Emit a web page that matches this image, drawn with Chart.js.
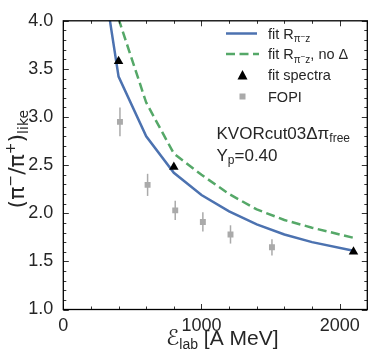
<!DOCTYPE html>
<html>
<head>
<meta charset="utf-8">
<script src="https://cdn.jsdelivr.net/npm/chart.js@4.4.1/dist/chart.umd.min.js"></script>
<style>
html,body{margin:0;padding:0;background:#fff;}
#wrap{width:374px;height:363px;}
</style>
</head>
<body>
<div id="wrap"><canvas id="c" width="374" height="363"></canvas></div>
<script>
// ---- data ----
const energiesModel = [300, 400, 600, 800, 1000, 1200, 1400, 1600, 1800, 2100];
const fitRpiz       = [4.35, 3.42, 2.80, 2.42, 2.19, 2.02, 1.885, 1.78, 1.70, 1.61];
const fitRpizNoDelta= [null, 4.02, 3.15, 2.62, 2.40, 2.20, 2.04, 1.93, 1.85, 1.745];
const energiesSpectra = [400, 800, 2100];
const fitSpectra      = [3.58, 2.48, 1.60];
const energiesFOPI = [410, 610, 810, 1010, 1210, 1510];
const fopiValues   = [2.95, 2.295, 2.03, 1.91, 1.78, 1.646];
const fopiErrors   = [0.15, 0.115, 0.10, 0.10, 0.095, 0.085];
const xTickValues = [0, 1000, 2000];
const yTickValues = [1.0, 1.5, 2.0, 2.5, 3.0, 3.5, 4.0];
const xMinorStep = 200;
const yMinorStep = 0.1;
const legendLabels = ["fit R", "fit R", "fit spectra", "FOPI"];
const annotationLines = ["KVORcut03Δπ", "Y"];

const BLUE = '#4C72B0', GREEN = '#55A868', GRAY = '#AAAAAA';
const TXT = '#262626';

const pts = (xs, ys) => xs.map((x, i) => ({x: x, y: ys[i]}));

function richWidth(ctx, segs) {
  let w = 0;
  for (const s of segs) { ctx.font = s.font; w += ctx.measureText(s.t).width; }
  return w;
}
function drawRich(ctx, segs, x, y, align) {
  const w = richWidth(ctx, segs);
  let cx = align === 'center' ? x - w / 2 : (align === 'right' ? x - w : x);
  ctx.textAlign = 'left';
  ctx.textBaseline = 'alphabetic';
  for (const s of segs) {
    ctx.font = s.font;
    ctx.fillText(s.t, cx, y + (s.dy || 0));
    cx += ctx.measureText(s.t).width;
  }
}

const decor = {
  id: 'decor',
  beforeDatasetsDraw(chart) {
    const ctx = chart.ctx, xs = chart.scales.x, ys = chart.scales.y;
    ctx.save();
    ctx.strokeStyle = GRAY;
    ctx.lineWidth = 1.5;
    energiesFOPI.forEach((e, i) => {
      const px = xs.getPixelForValue(e);
      ctx.beginPath();
      ctx.moveTo(px, ys.getPixelForValue(fopiValues[i] - fopiErrors[i]));
      ctx.lineTo(px, ys.getPixelForValue(fopiValues[i] + fopiErrors[i]));
      ctx.stroke();
    });
    ctx.restore();
  },
  afterDatasetsDraw(chart) {
    const ctx = chart.ctx, a = chart.chartArea, xs = chart.scales.x, ys = chart.scales.y;
    ctx.save();
    ctx.strokeStyle = '#333';
    ctx.lineWidth = 1;
    const majL = 5.5, minL = 3;
    for (let v = xs.min; v <= xs.max + 1e-6; v += xMinorStep) {
      const major = xTickValues.some(t => Math.abs(t - v) < 1e-6);
      const L = major ? majL : minL;
      const px = Math.round(xs.getPixelForValue(v)) + 0.5;
      ctx.beginPath();
      ctx.moveTo(px, a.bottom); ctx.lineTo(px, a.bottom - L);
      ctx.moveTo(px, a.top); ctx.lineTo(px, a.top + L);
      ctx.stroke();
    }
    for (let k = 0; ; k++) {
      const v = ys.min + k * yMinorStep;
      if (v > ys.max + 1e-6) break;
      const major = yTickValues.some(t => Math.abs(t - v) < 1e-6);
      const L = major ? majL : minL;
      const py = Math.round(ys.getPixelForValue(v)) + 0.5;
      ctx.beginPath();
      ctx.moveTo(a.left, py); ctx.lineTo(a.left + L, py);
      ctx.moveTo(a.right, py); ctx.lineTo(a.right - L, py);
      ctx.stroke();
    }
    ctx.strokeStyle = '#000';
    ctx.lineWidth = 1.3;
    ctx.strokeRect(a.left, a.top, a.right - a.left, a.bottom - a.top);
    ctx.restore();
  },
  afterDraw(chart) {
    const ctx = chart.ctx, a = chart.chartArea;
    ctx.save();
    ctx.fillStyle = TXT;
    const LS = "'Liberation Sans', Arial, sans-serif";
    const DV = "'DejaVu Sans', sans-serif";
    // ---- legend ----
    const lx0 = 226, lx1 = 257, tx = 268;
    const rows = [33.5, 54, 75, 96.5];
    const f = '14.5px ' + LS, fs = '10px ' + LS, fss = '8px ' + LS;
    ctx.lineWidth = 2.5;
    ctx.strokeStyle = BLUE;
    ctx.beginPath(); ctx.moveTo(lx0, rows[0]); ctx.lineTo(lx1, rows[0]); ctx.stroke();
    ctx.strokeStyle = GREEN;
    ctx.setLineDash([9, 4.5]);
    ctx.beginPath(); ctx.moveTo(lx0, rows[1]); ctx.lineTo(lx1 + 2, rows[1]); ctx.stroke();
    ctx.setLineDash([]);
    ctx.fillStyle = '#000';
    const tcx = 242.5, tcy = rows[2];
    ctx.beginPath();
    ctx.moveTo(tcx, tcy - 5); ctx.lineTo(tcx + 5, tcy + 4.5); ctx.lineTo(tcx - 5, tcy + 4.5);
    ctx.closePath(); ctx.fill();
    ctx.fillStyle = GRAY;
    ctx.fillRect(242.5 - 3, rows[3] - 3, 6, 6);
    ctx.fillStyle = TXT;
    const sub = [{t: 'π', font: fs, dy: 3.5}, {t: '−', font: fss, dy: 0}, {t: 'z', font: fs, dy: 3.5}];
    drawRich(ctx, [{t: legendLabels[0], font: f}].concat(sub), tx, rows[0] + 5, 'left');
    drawRich(ctx, [{t: legendLabels[1], font: f}].concat(sub).concat([{t: ', no Δ', font: f}]), tx, rows[1] + 5, 'left');
    drawRich(ctx, [{t: legendLabels[2], font: f}], tx, rows[2] + 5, 'left');
    drawRich(ctx, [{t: legendLabels[3], font: f}], tx, rows[3] + 5, 'left');
    // ---- annotation ----
    const af = '17px ' + LS, afs = '12px ' + LS;
    drawRich(ctx, [{t: annotationLines[0], font: af}, {t: 'free', font: afs, dy: 3.5}], 216.5, 138.5, 'left');
    drawRich(ctx, [{t: annotationLines[1], font: af}, {t: 'p', font: afs, dy: 3.5}, {t: '=0.40', font: af}], 216.5, 160.5, 'left');
    // ---- x axis title ----
    drawRich(ctx, [{t: 'ℰ', font: 'italic 22px ' + DV}, {t: 'lab', font: '14px ' + LS, dy: 4},
                   {t: ' [A MeV]', font: '21px ' + LS}], (a.left + a.right) / 2 + 7, 345, 'center');
    // ---- y axis title (rotated) ----
    ctx.translate(24, (a.top + a.bottom) / 2 - 6);
    ctx.rotate(-Math.PI / 2);
    const yf = '22px ' + DV, yfs = '14px ' + DV;
    drawRich(ctx, [{t: '(π', font: yf}, {t: '−', font: yfs, dy: -9}, {t: '/π', font: yf},
                   {t: '+', font: yfs, dy: -9}, {t: ')', font: yf}, {t: 'like', font: yfs, dy: 4}], 0, 0, 'center');
    ctx.restore();
  }
};

new Chart(document.getElementById('c'), {
  type: 'scatter',
  data: {
    datasets: [
      {label: 'fit Rπ−z', data: pts(energiesModel, fitRpiz), showLine: true, borderColor: BLUE,
       borderWidth: 2.5, pointRadius: 0, tension: 0, order: 3},
      {label: 'fit Rπ−z, no Δ', data: pts(energiesModel, fitRpizNoDelta), showLine: true, borderColor: GREEN,
       borderWidth: 2.5, borderDash: [9, 4.5], pointRadius: 0, tension: 0, spanGaps: true, order: 4},
      {label: 'fit spectra', data: pts(energiesSpectra, fitSpectra), pointStyle: 'triangle', pointRadius: 5.5,
       backgroundColor: '#000', borderColor: '#000', borderWidth: 0, order: 1},
      {label: 'FOPI', data: pts(energiesFOPI, fopiValues), pointStyle: 'rect', pointRadius: 4.2,
       backgroundColor: GRAY, borderColor: GRAY, borderWidth: 0, order: 2}
    ]
  },
  options: {
    responsive: false,
    animation: false,
    devicePixelRatio: 1,
    layout: {padding: {top: 13.5, right: 6.7, left: 0, bottom: 0}},
    plugins: {legend: {display: false}, tooltip: {enabled: false}},
    scales: {
      x: {
        type: 'linear', min: 0, max: 2200,
        grid: {display: false, drawTicks: false},
        border: {display: false},
        afterBuildTicks: s => { s.ticks = xTickValues.map(v => ({value: v})); },
        afterFit: s => { s.height = 53.5; },
        ticks: {padding: 6, color: TXT, font: {family: "'Liberation Sans', Arial, sans-serif", size: 18},
                maxRotation: 0, callback: v => String(v)}
      },
      y: {
        type: 'linear', min: 1.0, max: 4.0,
        grid: {display: false, drawTicks: false},
        border: {display: false},
        afterBuildTicks: s => { s.ticks = yTickValues.map(v => ({value: v})); },
        afterFit: s => { s.width = 63.3; },
        ticks: {padding: 10, color: TXT, font: {family: "'Liberation Sans', Arial, sans-serif", size: 18},
                callback: v => Number(v).toFixed(1)}
      }
    }
  },
  plugins: [decor]
});
</script>
</body>
</html>
